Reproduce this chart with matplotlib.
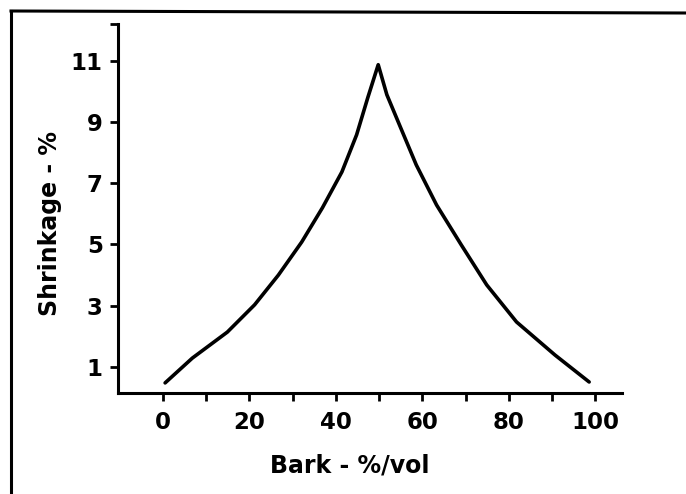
import numpy as np
import matplotlib.pyplot as plt
from matplotlib.lines import Line2D

# Curve (rising branch, then falling branch)
bark = [0.5, 6.8, 14.9, 21.2, 26.7, 32.1, 36.9, 41.4, 44.8, 47.4, 49.8,
        51.8, 55.0, 58.6, 63.3, 69.0, 74.9, 81.8, 90.7, 98.6]
shrink = [0.48, 1.29, 2.14, 3.03, 4.0, 5.08, 6.2, 7.37, 8.58, 9.8, 10.87,
          9.89, 8.81, 7.60, 6.29, 4.99, 3.68, 2.47, 1.39, 0.51]

x_ticks = list(range(0, 101, 10))
x_labels = ['0', '', '20', '', '40', '', '60', '', '80', '', '100']
y_ticks = [1, 3, 5, 7, 9, 11]

fig = plt.figure(figsize=(6.86, 4.94), dpi=100)
ax = fig.add_axes([118 / 686, 1 - 393 / 494, 504 / 686, 369 / 494])

ax.plot(bark, shrink, color='black', lw=2.6, solid_capstyle='round', solid_joinstyle='round')

ax.set_xlim(-10.4, 106.2)
ax.set_ylim(0.15, 12.2)

ax.set_xticks(x_ticks)
ax.set_xticklabels(x_labels)
ax.set_yticks(y_ticks + [12.2])
ax.set_yticklabels([str(v) for v in y_ticks] + [''])

for side in ['top', 'right']:
    ax.spines[side].set_visible(False)
for side in ['left', 'bottom']:
    ax.spines[side].set_linewidth(2.2)

ax.tick_params(axis='x', direction='out', length=6, width=2, pad=7, labelsize=16.5)
ax.tick_params(axis='y', direction='out', length=6, width=2, pad=5, labelsize=16.5)
for lab in ax.get_xticklabels() + ax.get_yticklabels():
    lab.set_fontweight('bold')

ax.set_xlabel('Bark - %/vol', fontsize=17, fontweight='bold')
ax.xaxis.set_label_coords((350 - 118) / 504, -(465 - 393) / 369)
ax.set_ylabel('Shrinkage - %', fontsize=17, fontweight='bold')
ax.yaxis.set_label_coords(-(118 - 50) / 504, (393 - 223) / 369)
ax.yaxis.label.set_va('center')
ax.xaxis.label.set_va('center')

# Frame around the figure (left and top edges)
fig.add_artist(Line2D([11 / 686, 11 / 686], [0, 1 - 11 / 494], transform=fig.transFigure, color='black', lw=2.2))
fig.add_artist(Line2D([11 / 686, 1], [1 - 11 / 494, 1 - 13 / 494], transform=fig.transFigure, color='black', lw=2.2))

plt.savefig('out.png', dpi=100)
